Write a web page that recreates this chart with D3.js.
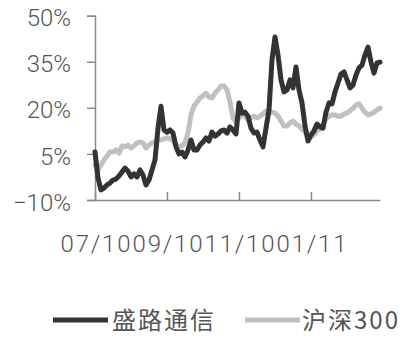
<!DOCTYPE html>
<html>
<head>
<meta charset="utf-8">
<script src="https://cdn.jsdelivr.net/npm/d3@7"></script>
<style>
  html, body { margin: 0; padding: 0; background: #fff; }
  svg { display: block; }
</style>
</head>
<body>
<div id="chart"></div>
<script>
// ---- data ----
const seriesNames = ["盛路通信", "沪深300"];
const seriesColors = ["#333333", "#c0c0c0"];
const shenglu = [5.6,-2.8,-6.7,-6.1,-5.1,-4.5,-3.5,-3.2,-2.2,-0.9,0.4,-0.6,-2.5,-1.5,-2.5,-0.2,-1.9,-5.1,-3.5,-0.2,
  3.0,13.4,20.5,12.8,12.1,12.8,11.8,7.3,5.0,5.6,4.0,6.3,9.5,6.3,6.3,7.9,8.9,10.2,9.2,12.1,
  10.8,11.5,12.5,12.8,11.8,13.8,12.8,11.5,21.6,18.3,18.6,17.3,13.4,11.8,12.1,9.5,7.3,13.4,19.3,35.6,
  43.1,37.2,29.1,25.2,25.8,29.1,26.5,33.3,25.8,21.6,14.1,9.2,11.2,12.5,14.7,13.8,13.4,18.6,21.6,21.3,
  25.2,28.1,31.0,31.7,29.1,26.5,27.4,30.7,33.0,33.9,37.2,39.8,34.9,31.3,34.6,34.9];
const hs300 = [1.4,-0.2,1.4,3.0,4.3,5.6,5.6,6.3,5.3,7.6,7.3,7.9,6.9,7.6,8.6,8.9,8.6,6.9,7.9,8.6,
  8.9,9.5,9.5,9.9,10.2,9.9,9.5,7.9,7.3,7.6,8.6,11.8,17.7,20.6,21.9,23.2,23.9,24.8,23.5,23.2,
  24.8,25.8,27.1,27.1,25.8,21.9,16.7,15.4,16.7,17.7,17.3,16.0,16.7,17.3,16.7,17.3,18.0,19.0,18.6,18.6,
  18.3,17.3,15.7,14.1,14.1,15.1,15.7,14.7,14.1,13.1,12.1,11.2,10.5,11.2,12.5,13.1,14.7,16.4,17.3,17.7,
  17.7,17.3,17.3,18.0,18.3,19.0,19.9,20.9,21.3,19.9,18.6,17.7,18.0,18.6,19.3,19.9];
const xTickIndex = [0, 24, 48, 72];
const xTickLabels = ["07/10", "09/10", "11/10", "01/11"];
const yTicks = [-10, 5, 20, 35, 50];

// ---- layout ----
const W = 400, H = 338;
const svg = d3.select("#chart").append("svg").attr("width", W).attr("height", H);

const x = d3.scaleLinear().domain([0, shenglu.length - 1]).range([95, 380]);
const y = d3.scaleLinear().domain([-10, 50]).range([200, 15.7]);

const axisColor = "#8a8a8a";
const textColor = "#555555";
const labelFont = "Roboto, 'DejaVu Sans', sans-serif";

// Y axis
const yAxis = svg.append("g").attr("transform", "translate(95,0)")
  .call(d3.axisLeft(y).tickValues(yTicks).tickSize(8).tickPadding(16)
    .tickFormat(d => (d < 0 ? "\u2212" + Math.abs(d) : d) + "%"));
yAxis.select(".domain").attr("stroke", axisColor).attr("stroke-width", 1.5);
yAxis.selectAll(".tick line").attr("stroke", axisColor).attr("stroke-width", 1.5);
yAxis.selectAll(".tick text")
  .attr("fill", textColor).attr("font-family", labelFont).attr("font-weight", 300)
  .attr("font-size", 24).attr("dy", "0.42em");

// X axis (inner ticks)
const xAxis = svg.append("g").attr("transform", "translate(0,200)")
  .call(d3.axisBottom(x).tickValues(xTickIndex).tickSize(-8).tickSizeOuter(0)
    .tickFormat((d, i) => xTickLabels[i]));
xAxis.select(".domain").attr("stroke", axisColor).attr("stroke-width", 1.5);
xAxis.selectAll(".tick line").attr("stroke", axisColor).attr("stroke-width", 1.5);
xAxis.selectAll(".tick text")
  .attr("fill", textColor).attr("font-family", labelFont).attr("font-weight", 300)
  .attr("font-size", 24).attr("y", 43).attr("dy", "0.36em")
  .attr("textLength", 70).attr("lengthAdjust", "spacing");

// lines
const line = d3.line().x((d, i) => x(i)).y(d => y(d));
[hs300, shenglu].forEach((data, k) => {
  svg.append("path").datum(data)
    .attr("fill", "none")
    .attr("stroke", seriesColors[1 - k])
    .attr("stroke-width", 5)
    .attr("stroke-linejoin", "round")
    .attr("stroke-linecap", "round")
    .attr("d", line);
});

// legend
const legendItems = [
  { name: seriesNames[0], color: seriesColors[0], x0: 53, x1: 108, tx: 112 },
  { name: seriesNames[1], color: seriesColors[1], x0: 245, x1: 300, tx: 302 }
];
const lg = svg.append("g");
legendItems.forEach(it => {
  lg.append("line").attr("x1", it.x0).attr("x2", it.x1).attr("y1", 320).attr("y2", 320)
    .attr("stroke", it.color).attr("stroke-width", 5);
  lg.append("text").attr("x", it.tx).attr("y", 320).attr("dy", "0.36em")
    .attr("font-family", "'Noto Sans CJK SC', sans-serif").attr("font-size", 24)
    .attr("letter-spacing", 2)
    .attr("fill", textColor).text(it.name);
});
</script>
</body>
</html>
